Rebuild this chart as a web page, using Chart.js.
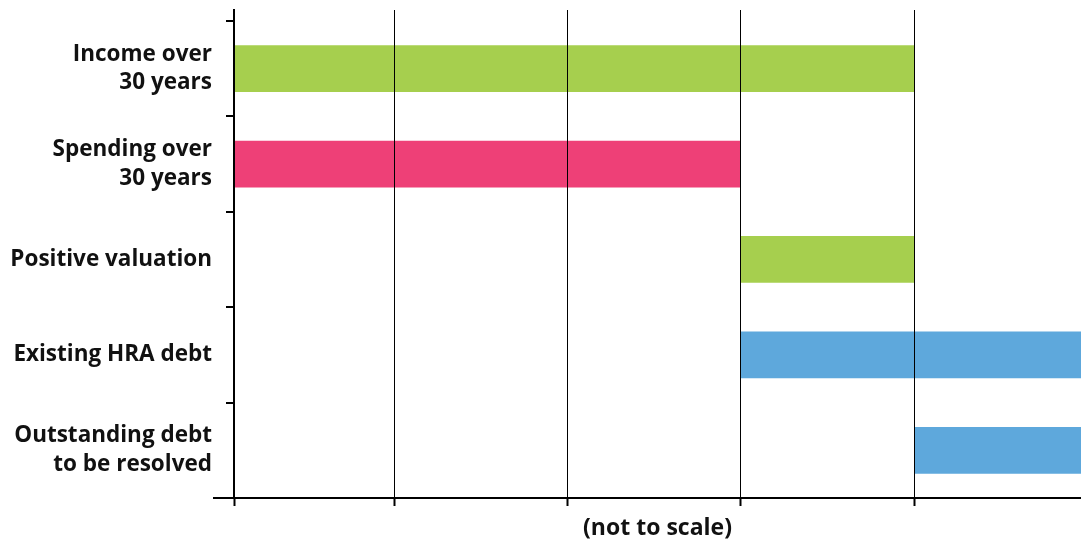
<!DOCTYPE html>
<html>
<head>
<meta charset="utf-8">
<script src="https://cdn.jsdelivr.net/npm/chart.js@4.4.1/dist/chart.umd.min.js"></script>
<style>
  html, body { margin: 0; padding: 0; background: #ffffff; }
  #wrap { width: 1081px; height: 542px; }
</style>
</head>
<body>
<div id="wrap"><canvas id="chart" width="1081" height="542"></canvas></div>
<script>
// Categories, top to bottom
const categories = [
  ['Income over', '30 years'],
  ['Spending over', '30 years'],
  ['Positive valuation'],
  ['Existing HRA debt'],
  ['Outstanding debt', 'to be resolved']
];

// Bar extents in arbitrary (not to scale) units
const barStart = [0, 0, 506, 506, 680];
const barEnd   = [680, 506, 680, 847, 847];

// Positions of the vertical reference lines along the value axis
const xTickValues = [0, 160, 333, 506, 680];
const xMax = 847;

const BAR_COLORS = ['#a6cf4e', '#ee4077', '#a6cf4e', '#5ea8dc', '#5ea8dc'];

const LABEL_FONT = 'Open Sans';

const points = categories.map((c, i) => ({ x: [barStart[i], barEnd[i]], y: i }));

// Extends the baseline a little to the left of the value axis origin
const baselineExtension = {
  id: 'baselineExtension',
  afterDraw(chart) {
    const { ctx, chartArea } = chart;
    ctx.save();
    ctx.strokeStyle = '#000';
    ctx.lineWidth = 2;
    ctx.beginPath();
    ctx.moveTo(chartArea.left - 21, chartArea.bottom);
    ctx.lineTo(chartArea.left, chartArea.bottom);
    ctx.stroke();
    ctx.restore();
  }
};

new Chart(document.getElementById('chart'), {
  type: 'bar',
  data: {
    datasets: [{
      data: points,
      backgroundColor: BAR_COLORS,
      borderWidth: 0,
      barPercentage: 0.49,
      categoryPercentage: 1
    }]
  },
  plugins: [baselineExtension],
  options: {
    indexAxis: 'y',
    responsive: false,
    animation: false,
    layout: { autoPadding: false, padding: { top: 10, right: 0, left: 0, bottom: 0 } },
    plugins: { legend: { display: false }, tooltip: { enabled: false } },
    scales: {
      x: {
        type: 'linear',
        min: 0,
        max: xMax,
        afterBuildTicks: (scale) => { scale.ticks = xTickValues.map(v => ({ value: v })); },
        afterFit: (scale) => {
          scale.height = 44;
          scale.paddingLeft = 0;
          scale.paddingRight = 0;
        },
        grid: {
          color: '#000',
          lineWidth: 1,
          tickLength: 8,
          tickWidth: 2,
          tickColor: '#000',
          z: 1
        },
        border: { display: true, color: '#000', width: 2, z: 1 },
        ticks: { display: false },
        title: {
          display: true,
          text: '(not to scale)',
          color: '#111',
          font: { family: LABEL_FONT, size: 23, weight: 'bold' },
          padding: { top: 0, bottom: 0 }
        }
      },
      y: {
        type: 'linear',
        reverse: true,
        offset: false,
        min: -0.615,
        max: 4.5,
        afterBuildTicks: (scale) => { scale.ticks = categories.map((c, i) => ({ value: i })); },
        afterFit: (scale) => {
          scale.width = 234;
          scale.paddingTop = 0;
          scale.paddingBottom = 0;
        },
        grid: {
          offset: true,
          drawOnChartArea: false,
          color: '#000',
          lineWidth: 2,
          tickLength: 8
        },
        border: { display: true, color: '#000', width: 2, z: 1 },
        ticks: {
          autoSkip: false,
          padding: 14,
          color: '#111',
          font: { family: LABEL_FONT, size: 22.5, weight: 'bold', lineHeight: 1.28 },
          callback: (value, index) => categories[index]
        }
      }
    }
  }
});
</script>
</body>
</html>
